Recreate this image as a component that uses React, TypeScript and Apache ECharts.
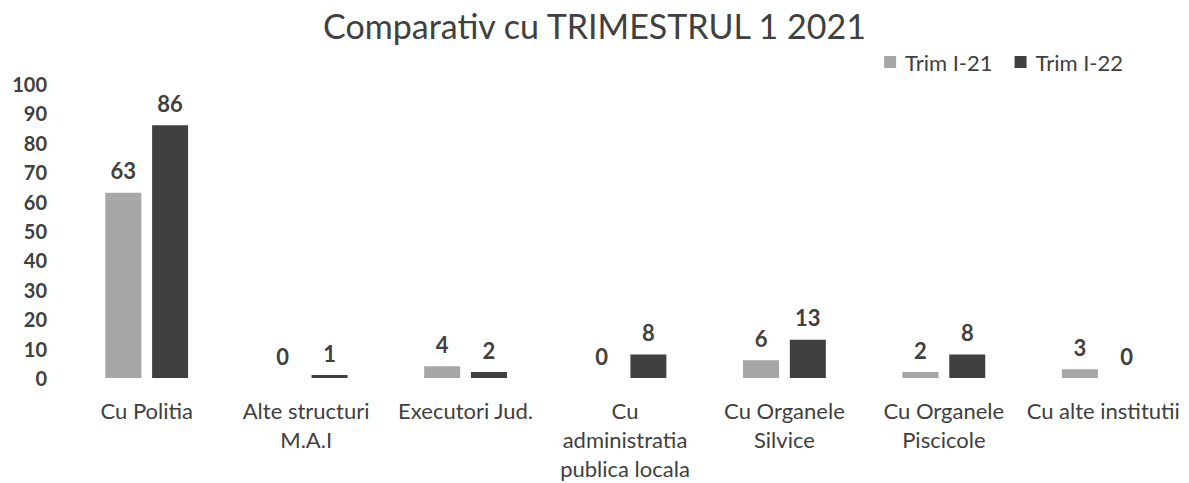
import React, { useEffect, useRef } from "react";
import * as echarts from "echarts";

const categories = [
  "Cu Politia",
  "Alte structuri\nM.A.I",
  "Executori Jud.",
  "Cu\nadministratia\npublica locala",
  "Cu Organele\nSilvice",
  "Cu Organele\nPiscicole",
  "Cu alte institutii",
];
const trim21 = [63, 0, 4, 0, 6, 2, 3];
const trim22 = [86, 1, 2, 8, 13, 8, 0];
const yTicks = { min: 0, max: 100, interval: 10 };

const FONT = "Lato, 'Open Sans', sans-serif";
const TXT = "#404040";

export default function App() {
  const ref = useRef<HTMLDivElement>(null);
  useEffect(() => {
    if (!ref.current) return;
    const chart = echarts.init(ref.current, null, { renderer: "svg" });
    const label = {
      show: true,
      position: "top" as const,
      distance: 11,
      color: TXT,
      fontSize: 22,
      fontWeight: "bold" as const,
      fontFamily: FONT,
    };
    chart.setOption({
      animation: false,
      backgroundColor: "#ffffff",
      title: {
        text: "Comparativ cu TRIMESTRUL 1 2021",
        left: "center",
        top: 3,
        textStyle: { color: TXT, fontSize: 34, fontWeight: "normal", fontFamily: FONT },
      },
      legend: {
        right: 61,
        top: 46,
        itemWidth: 12,
        itemHeight: 12,
        itemGap: 22,
        icon: "rect",
        textStyle: { color: TXT, fontSize: 22, fontFamily: FONT, padding: [0, 0, 0, 4] },
        data: ["Trim I-21", "Trim I-22"],
      },
      grid: { left: 67, right: 6, top: 84, bottom: 102, containLabel: false },
      xAxis: {
        type: "category",
        data: categories,
        axisLine: { show: false },
        axisTick: { show: false },
        axisLabel: {
          color: TXT,
          fontSize: 22,
          fontFamily: FONT,
          margin: 18,
          lineHeight: 29,
          interval: 0,
        },
      },
      yAxis: {
        type: "value",
        min: yTicks.min,
        max: yTicks.max,
        interval: yTicks.interval,
        axisLine: { show: false },
        axisTick: { show: false },
        splitLine: { show: false },
        axisLabel: {
          color: TXT,
          fontSize: 20,
          fontWeight: "bold",
          fontFamily: FONT,
          margin: 20,
        },
      },
      series: [
        {
          name: "Trim I-21",
          type: "bar",
          data: trim21,
          barWidth: 36,
          barGap: "30%",
          itemStyle: { color: "#a6a6a6" },
          label,
        },
        {
          name: "Trim I-22",
          type: "bar",
          data: trim22,
          barWidth: 36,
          itemStyle: { color: "#404040" },
          label,
        },
      ],
    });
    return () => chart.dispose();
  }, []);
  return <div ref={ref} style={{ width: 1189, height: 483, position: "absolute", left: 0, top: 0 }} />;
}
